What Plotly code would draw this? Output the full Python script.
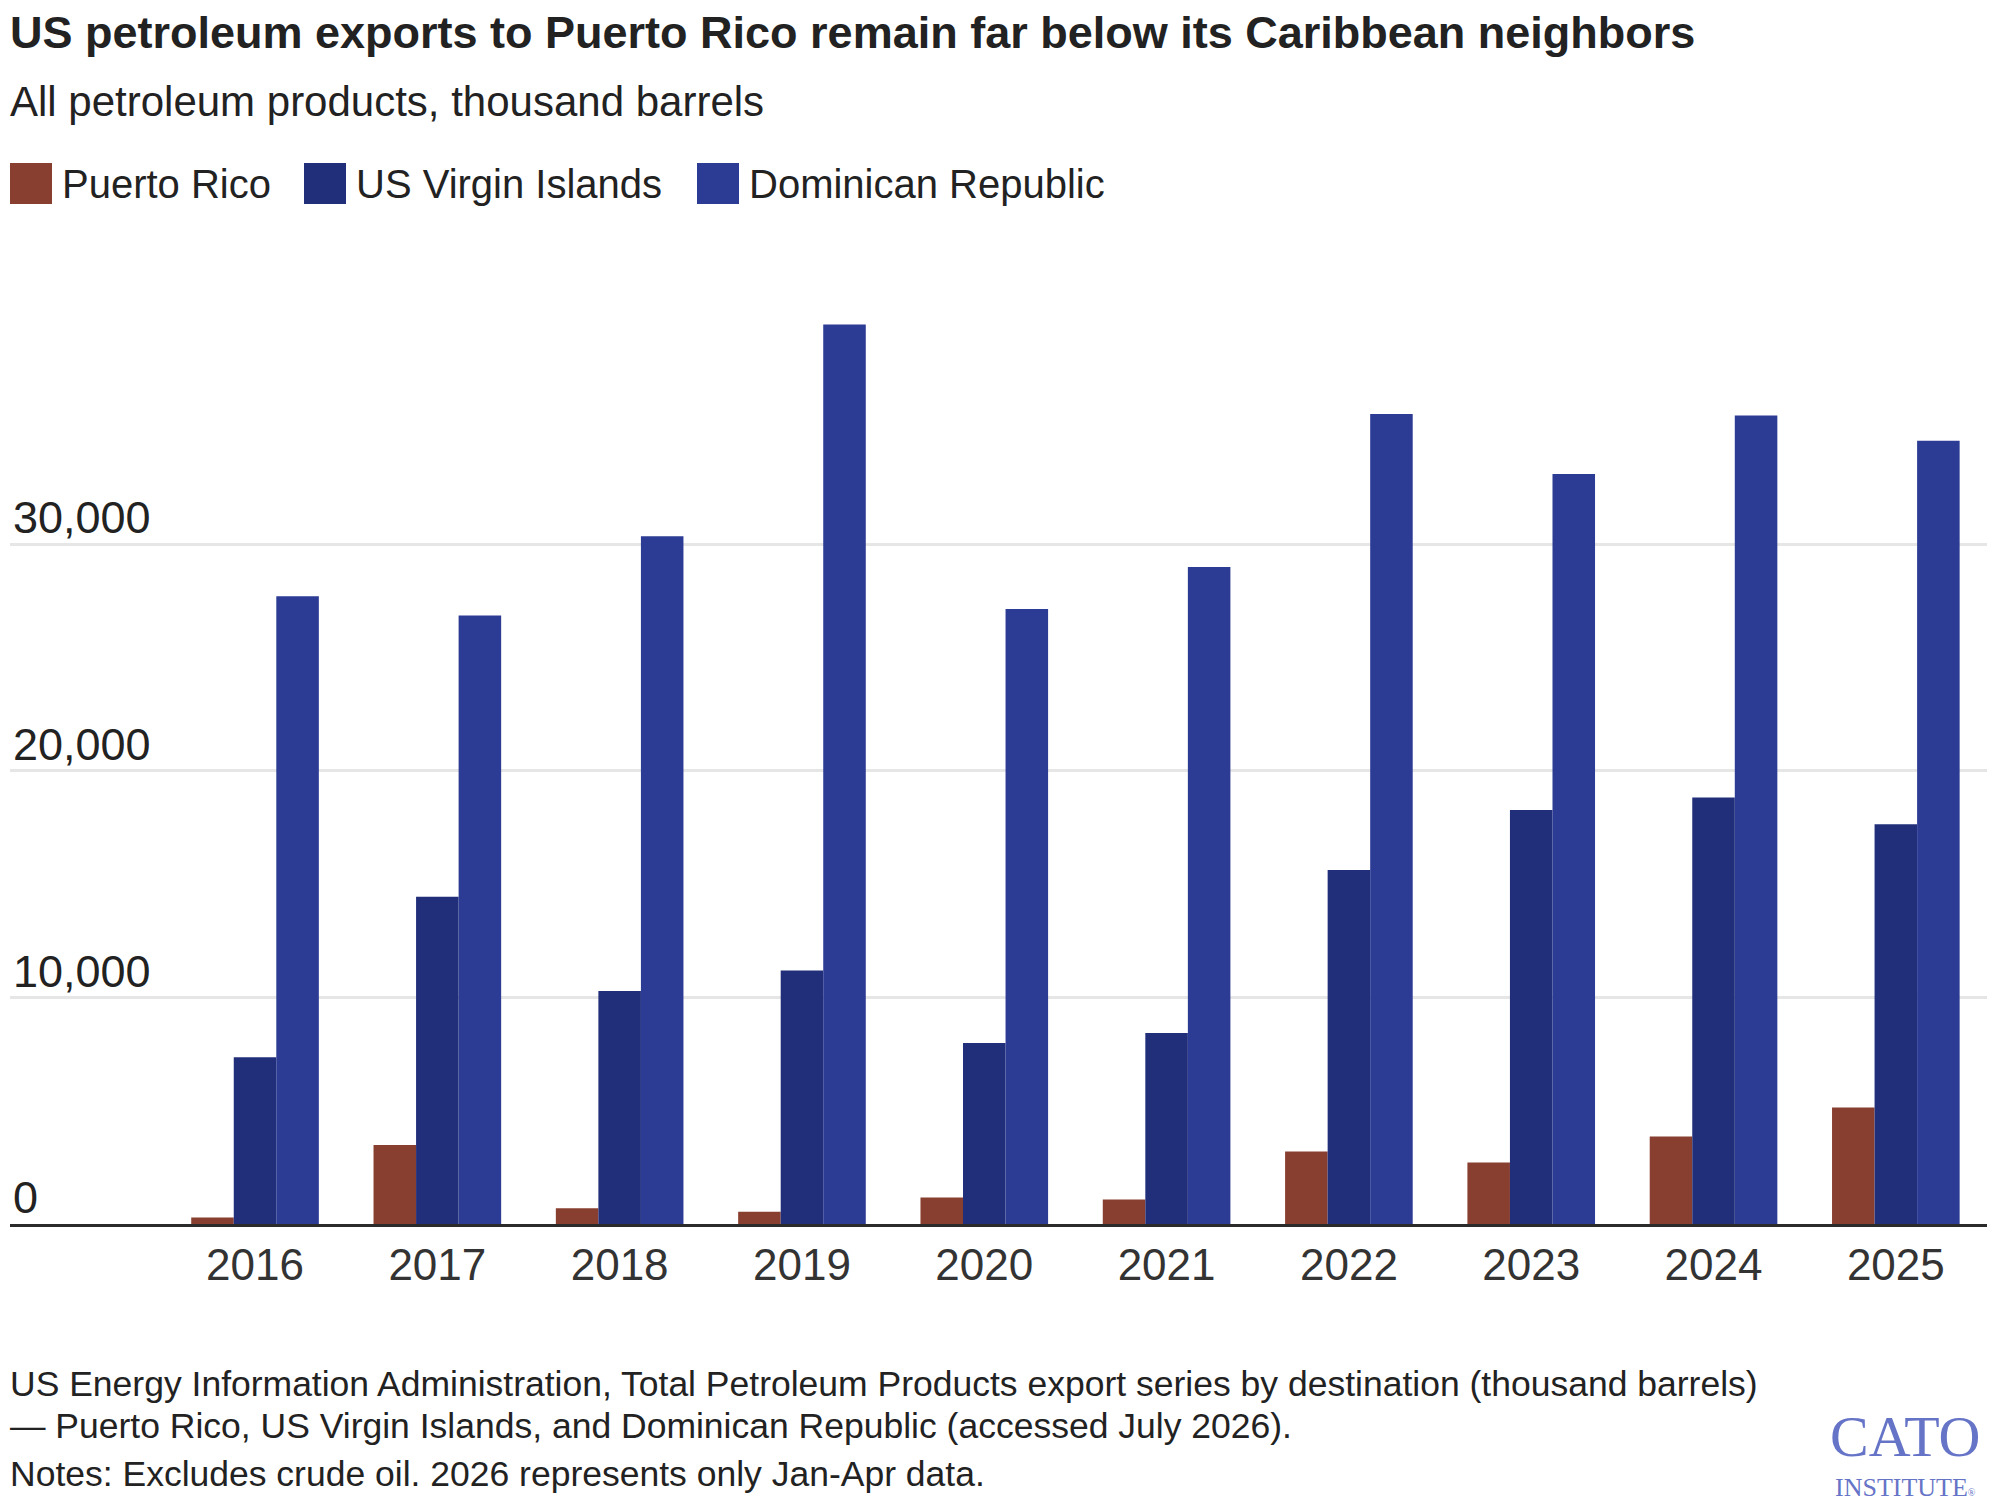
import plotly.graph_objects as go

years = [2016, 2017, 2018, 2019, 2020, 2021, 2022, 2023, 2024, 2025]
puerto_rico = [290, 3480, 700, 540, 1170, 1080, 3200, 2710, 3860, 5140]
us_virgin_islands = [7360, 14440, 10280, 11180, 7980, 8430, 15620, 18260, 18820, 17640]
dominican_republic = [27700, 26850, 30340, 39680, 27130, 28990, 35730, 33090, 35670, 34550]

series_names = ["Puerto Rico", "US Virgin Islands", "Dominican Republic"]
series_colors = ["#883F30", "#212E7A", "#2C3B94"]
y_tickvals = [0, 10000, 20000, 30000]
y_ticktext = ["0", "10,000", "20,000", "30,000"]

W, H = 1997, 1511
L, R, T, B = 10, 10, 272, 287
X0, X1 = L, W - R
YT, YB = T, H - B


def pxx(x):
    return (x - X0) / (X1 - X0)


def pyy(y):
    return (YB - y) / (YB - YT)


fig = go.Figure()
for name, vals, col in zip(series_names, [puerto_rico, us_virgin_islands, dominican_republic], series_colors):
    fig.add_trace(go.Bar(x=years, y=vals, name=name, marker=dict(color=col, line=dict(width=0)),
                         showlegend=False))

font_main = "Liberation Sans, Arial, sans-serif"

fig.update_layout(
    width=W, height=H,
    margin=dict(l=L, r=R, t=T, b=B, pad=0),
    paper_bgcolor="white", plot_bgcolor="white",
    barmode="group", bargap=0.3, bargroupgap=0,
    font=dict(family=font_main, color="#222222"),
    xaxis=dict(
        range=[2014.656, 2025.5],
        tickvals=years, ticktext=[str(y) for y in years],
        tickfont=dict(size=44, color="#333333", family=font_main),
        showgrid=False, zeroline=False,
        showline=True, linecolor="#2b2b2b", linewidth=3,
        ticks="", fixedrange=True,
    ),
    yaxis=dict(
        range=[0, 42000],
        tickvals=y_tickvals, ticktext=y_ticktext,
        ticklabelposition="inside top",
        ticklabelshift=5,
        tickfont=dict(size=45, color="#222222", family=font_main),
        showgrid=True, gridcolor="#e6e6e6", gridwidth=3,
        zeroline=False, showline=False, ticks="",
        fixedrange=True,
    ),
)

ann = []
# title & subtitle
ann.append(dict(text="<b>US petroleum exports to Puerto Rico remain far below its Caribbean neighbors</b>",
                x=pxx(8), y=pyy(32), xanchor="left", yanchor="middle",
                font=dict(size=45, color="#222222", family=font_main)))
ann.append(dict(text="All petroleum products, thousand barrels",
                x=pxx(8), y=pyy(102), xanchor="left", yanchor="middle",
                font=dict(size=42, color="#222222", family=font_main)))

# legend
leg_sq = [10, 304, 697]
shapes = []
for xs, name, col in zip(leg_sq, series_names, series_colors):
    shapes.append(dict(type="rect", xref="paper", yref="paper",
                       x0=pxx(xs), x1=pxx(xs + 42), y0=pyy(204), y1=pyy(163),
                       fillcolor=col, line=dict(width=0)))
    ann.append(dict(text=name, x=pxx(xs + 50), y=pyy(184), xanchor="left", yanchor="middle",
                    font=dict(size=40, color="#222222", family=font_main)))

# footer
foot = [
    ("US Energy Information Administration, Total Petroleum Products export series by destination (thousand barrels)", 1384),
    ("— Puerto Rico, US Virgin Islands, and Dominican Republic (accessed July 2026).", 1426),
    ("Notes: Excludes crude oil. 2026 represents only Jan-Apr data.", 1474),
]
for txt, yc in foot:
    ann.append(dict(text=txt, x=pxx(8), y=pyy(yc), xanchor="left", yanchor="middle",
                    font=dict(size=35.5, color="#222222", family=font_main)))

# logo
logo_col = "#6674C7"
ann.append(dict(text="CATO", x=pxx(1905), y=pyy(1436),
                xanchor="center", yanchor="middle",
                font=dict(size=58, color=logo_col, family="Liberation Serif, serif")))
ann.append(dict(text="INSTITUTE<span style='font-size:10px'>®</span>", x=pxx(1905), y=pyy(1487),
                xanchor="center", yanchor="middle",
                font=dict(size=26, color=logo_col, family="Liberation Serif, serif")))

for a in ann:
    a.update(xref="paper", yref="paper", showarrow=False)

fig.update_layout(annotations=ann, shapes=shapes)
fig.write_html("out.html")
